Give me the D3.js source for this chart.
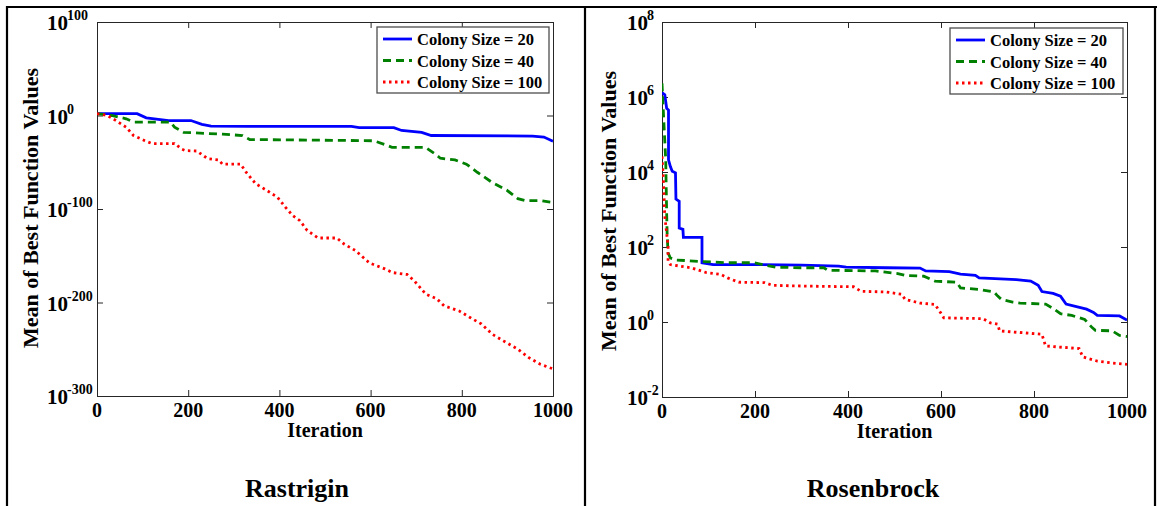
<!DOCTYPE html>
<html>
<head>
<meta charset="utf-8">
<script src="https://cdn.jsdelivr.net/npm/d3@7"></script>
<style>
  body { margin: 0; background: #fff; }
</style>
</head>
<body>
<svg id="fig" width="1157" height="506"></svg>
<script>
// ---- data ----
const iterTicks = [0, 200, 400, 600, 800, 1000];
const seriesNames = ["Colony Size = 20", "Colony Size = 40", "Colony Size = 100"];
const seriesColors = ["#0000ff", "#008000", "#ff0000"];
const seriesDash = [null, "8,5", "2.5,3.5"];

const rastriginTicks = [1e100, 1e0, 1e-100, 1e-200, 1e-300];
const rastriginTickExp = ["100", "0", "-100", "-200", "-300"];

const rasIter20 = [0, 88, 108, 157, 206, 230, 250, 331, 558, 575, 651, 668, 712, 733, 955, 980, 1000];
const rasVal20 = [1e2, 1e2, 3e-3, 4e-6, 4e-6, 4e-10, 4e-12, 2e-12, 2e-12, 1e-13, 1e-13, 1e-16, 1e-18, 4e-22, 1e-22, 1e-23, 3e-28];

const rasIter40 = [0, 32, 64, 80, 161, 170, 190, 275, 319, 335, 607, 631, 647, 720, 741, 753, 785, 810, 834, 866, 899, 923, 939, 972, 1000];
const rasVal40 = [1e2, 1, 3e-4, 1e-7, 1e-7, 3e-13, 1e-18, 1e-20, 4e-22, 2e-26, 1e-27, 1e-31, 1e-34, 1e-34, 1e-41, 2e-46, 3e-48, 1e-52, 2e-61, 4e-72, 1e-80, 1e-89, 1e-91, 1e-91, 1e-93];

const rasIter100 = [0, 23, 40, 64, 80, 105, 121, 170, 186, 194, 219, 242, 267, 275, 315, 327, 348, 372, 396, 413, 429, 445, 461, 485, 526, 542, 567, 591, 599, 631, 648, 680, 696, 721, 745, 761, 794, 818, 843, 867, 891, 923, 947, 972, 1000];
const rasVal100 = [1e2, 1, 1e-5, 3e-13, 4e-22, 1e-27, 1e-30, 1e-30, 1e-36, 3e-38, 1e-38, 1e-46, 3e-48, 1e-52, 1e-52, 2e-61, 1e-73, 1e-80, 3e-88, 1e-98, 1e-107, 3e-113, 1e-123, 1e-131, 1e-131, 3e-138, 3e-145, 1e-155, 1e-158, 1e-164, 1e-168, 1e-170, 1e-177, 1e-191, 1e-196, 3e-204, 1e-209, 1e-216, 1e-223, 1e-234, 1e-241, 1e-250, 1e-259, 1e-266, 1e-271];

const rosenbrockTicks = [1e8, 1e6, 1e4, 1e2, 1e0, 1e-2];
const rosenbrockTickExp = ["8", "6", "4", "2", "0", "-2"];

const rosIter20 = [0, 6, 10, 14, 14, 18, 22, 29, 30, 37, 37, 45, 46, 86, 86, 110, 205, 300, 380, 396, 483, 555, 567, 618, 642, 674, 682, 762, 793, 809, 817, 841, 857, 869, 889, 913, 928, 936, 984, 1000];
const rosVal20 = [1.3e6, 1.15e6, 5e5, 4.5e5, 2.1e4, 1.4e4, 1.05e4, 9.5e3, 1.9e3, 1.65e3, 320, 295, 180, 180, 38, 34, 34, 33, 31, 29, 28, 27.5, 23, 22, 19, 17.5, 15, 13.5, 12.3, 9.5, 6.5, 5.8, 4.9, 3, 2.6, 2.2, 1.8, 1.5, 1.45, 1.12];

const rosIter40 = [0, 3, 8, 10, 11, 13, 18, 30, 86, 141, 197, 221, 245, 300, 348, 356, 459, 507, 523, 563, 587, 634, 642, 682, 714, 722, 730, 754, 770, 825, 841, 857, 881, 909, 925, 932, 968, 984, 1000];
const rosVal40 = [2.3e6, 3.8e5, 2.1e4, 800, 240, 70, 51, 45, 41, 38, 38, 33, 29, 28, 28, 24, 23, 19.5, 17.4, 16.6, 12.3, 11.5, 8.1, 7.4, 6.3, 4.9, 4, 3.4, 3.2, 3, 2.3, 1.66, 1.5, 1.17, 0.71, 0.6, 0.58, 0.44, 0.41];

const rosIter100 = [0, 3, 6, 10, 13, 13, 18, 38, 62, 94, 126, 141, 165, 221, 237, 300, 412, 428, 483, 515, 523, 555, 587, 599, 606, 690, 706, 722, 726, 817, 825, 897, 905, 936, 968, 1000];
const rosVal100 = [2.6e4, 6.3e3, 660, 240, 105, 42, 34, 31, 28, 21, 18.6, 15, 11.5, 11.2, 9.5, 9.1, 8.7, 6.6, 6.3, 5.5, 4, 3.2, 2.95, 1.78, 1.29, 1.23, 0.95, 0.87, 0.58, 0.47, 0.23, 0.195, 0.117, 0.091, 0.081, 0.074];

// ---- panel setup ----
const zip = (xs, ys) => xs.map((x, i) => ({ x, y: ys[i] }));
const FONT = "Liberation Serif";

const panels = [
  {
    title: "Rastrigin",
    frame: { left: 97, right: 553, top: 22, bottom: 396 },
    yDomain: [1e-300, 1e100],
    yTicks: rastriginTicks, yTickExp: rastriginTickExp,
    tickLabelX: 47, yLabelX: 31, yLabelY: 208,
    titleX: 297,
    legend: { x: 377, y: 27, w: 172, h: 66 },
    series: [zip(rasIter20, rasVal20), zip(rasIter40, rasVal40), zip(rasIter100, rasVal100)]
  },
  {
    title: "Rosenbrock",
    frame: { left: 662, right: 1127, top: 22, bottom: 397 },
    yDomain: [1e-2, 1e8],
    yTicks: rosenbrockTicks, yTickExp: rosenbrockTickExp,
    tickLabelX: 627, yLabelX: 609, yLabelY: 211,
    titleX: 873,
    legend: { x: 950, y: 28, w: 173, h: 66 },
    series: [zip(rosIter20, rosVal20), zip(rosIter40, rosVal40), zip(rosIter100, rosVal100)]
  }
];

const svg = d3.select("#fig");

// shared text styling
function label(sel, size) {
  return sel.attr("font-family", FONT).attr("font-weight", "bold")
    .attr("font-size", size).attr("fill", "#000");
}

// outer frame of the figure
const frameLines = [
  [7, 7, 1157, 7],
  [7, 6, 7, 506],
  [585, 6, 585, 506],
  [1155, 6, 1155, 506]
];
svg.selectAll("line.outer").data(frameLines).join("line")
  .attr("class", "outer")
  .attr("x1", d => d[0]).attr("y1", d => d[1])
  .attr("x2", d => d[2]).attr("y2", d => d[3])
  .attr("stroke", "#000").attr("stroke-width", 2.2);

panels.forEach((p, pi) => {
  const f = p.frame;
  const x = d3.scaleLinear().domain([0, 1000]).range([f.left, f.right]);
  const y = d3.scaleLog().domain(p.yDomain).range([f.bottom, f.top]);
  const g = svg.append("g");

  const clipId = "clip" + pi;
  g.append("clipPath").attr("id", clipId).append("rect")
    .attr("x", f.left).attr("y", f.top)
    .attr("width", f.right - f.left).attr("height", f.bottom - f.top);

  // axes with inward ticks on all four sides
  const tickLen = 6;
  const axes = [
    g.append("g").attr("transform", `translate(0,${f.bottom})`)
      .call(d3.axisBottom(x).tickValues(iterTicks).tickSize(-tickLen).tickFormat("")),
    g.append("g").attr("transform", `translate(0,${f.top})`)
      .call(d3.axisTop(x).tickValues(iterTicks).tickSize(-tickLen).tickFormat("")),
    g.append("g").attr("transform", `translate(${f.left},0)`)
      .call(d3.axisLeft(y).tickValues(p.yTicks).tickSize(-tickLen).tickFormat("")),
    g.append("g").attr("transform", `translate(${f.right},0)`)
      .call(d3.axisRight(y).tickValues(p.yTicks).tickSize(-tickLen).tickFormat(""))
  ];
  axes.forEach(a => {
    a.select(".domain").attr("stroke", "#262626").attr("stroke-width", 1);
    a.selectAll(".tick line").attr("stroke", "#262626").attr("stroke-width", 1);
  });

  // x tick labels
  label(g.selectAll("text.xtick").data(iterTicks).join("text"), 20)
    .attr("class", "xtick")
    .attr("x", d => x(d)).attr("y", f.bottom + 21)
    .attr("text-anchor", "middle")
    .text(d => d);

  // y tick labels as 10 with superscript exponent
  p.yTicks.forEach((v, i) => {
    const t = label(g.append("text"), 21)
      .attr("x", p.tickLabelX).attr("y", y(v) + 8);
    t.append("tspan").text("10");
    t.append("tspan").attr("dy", -10).attr("dx", -1)
      .attr("font-size", 14).text(p.yTickExp[i]);
  });

  // axis titles
  label(g.append("text"), 20)
    .attr("x", (f.left + f.right) / 2).attr("y", f.bottom + 41)
    .attr("text-anchor", "middle")
    .text("Iteration");
  label(g.append("text"), 22)
    .attr("transform", `translate(${p.yLabelX + 7},${p.yLabelY}) rotate(-90)`)
    .attr("text-anchor", "middle")
    .text("Mean of Best Function Values");

  // panel title
  label(g.append("text"), 26)
    .attr("x", p.titleX).attr("y", 497)
    .attr("text-anchor", "middle")
    .text(p.title);

  // curves
  const line = d3.line().x(d => x(d.x)).y(d => y(d.y));
  g.append("g").attr("clip-path", `url(#${clipId})`)
    .selectAll("path").data(p.series).join("path")
    .attr("d", line)
    .attr("fill", "none")
    .attr("stroke", (d, i) => seriesColors[i])
    .attr("stroke-width", 2.8)
    .attr("stroke-dasharray", (d, i) => seriesDash[i]);

  // legend
  const L = p.legend;
  const lg = g.append("g");
  lg.append("rect")
    .attr("x", L.x).attr("y", L.y).attr("width", L.w).attr("height", L.h)
    .attr("fill", "#fff").attr("stroke", "#4d4d4d").attr("stroke-width", 1.3);
  seriesNames.forEach((name, i) => {
    const cy = L.y + 12 + i * 21.5;
    lg.append("line")
      .attr("x1", L.x + 6).attr("x2", L.x + 35)
      .attr("y1", cy).attr("y2", cy)
      .attr("stroke", seriesColors[i]).attr("stroke-width", 2.8)
      .attr("stroke-dasharray", seriesDash[i]);
    label(lg.append("text"), 16.5)
      .attr("x", L.x + 40).attr("y", cy + 6)
      .text(name);
  });
});
</script>
</body>
</html>
